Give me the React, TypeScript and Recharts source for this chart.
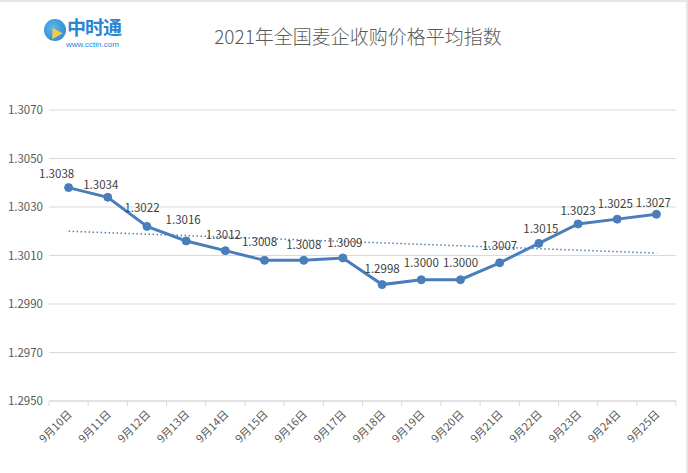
import React from 'react';
import {
  LineChart,
  Line,
  XAxis,
  YAxis,
  CartesianGrid,
  LabelList,
} from 'recharts';

const dates = [
  '9月10日', '9月11日', '9月12日', '9月13日', '9月14日', '9月15日', '9月16日', '9月17日',
  '9月18日', '9月19日', '9月20日', '9月21日', '9月22日', '9月23日', '9月24日', '9月25日',
];
const priceIndex = [
  1.3038, 1.3034, 1.3022, 1.3016, 1.3012, 1.3008, 1.3008, 1.3009,
  1.2998, 1.3, 1.3, 1.3007, 1.3015, 1.3023, 1.3025, 1.3027,
];
// linear trend line, ends
const trend = [1.302, null, null, null, null, null, null, null, null, null, null, null, null, null, null, 1.3011];
const yTicks = [1.295, 1.297, 1.299, 1.301, 1.303, 1.305, 1.307];

const data = dates.map((d, i) => ({ date: d, value: priceIndex[i], trend: trend[i] }));

const W = 688;
const H = 473;
const plotLeft = 49;
const plotRight = 12;
const halfBand = (W - plotLeft - plotRight) / dates.length / 2;

const font = "'Noto Sans CJK SC', 'Noto Sans', sans-serif";
const blue = '#4a7ebb';
const axisGray = '#d9d9d9';
const textGray = '#595959';

// label nudges (Excel places them by hand)
const labelDx = [-12, -7, -5, -3, -2, -5, 0, 2, 0, 0, 0, 0, 2, 0, -2, -3];
const labelDy = [-10, -8, -14, -17, -12, -14, -11, -11, -12, -13, -13, -13, -10, -9, -11, -7];

function XTick(props: any) {
  const { x, y, payload, index } = props;
  return (
    <g>
      {index === 0 && (
        <line x1={x - halfBand} y1={y - 8} x2={x - halfBand} y2={y - 3} stroke={axisGray} />
      )}
      <line x1={x + halfBand} y1={y - 8} x2={x + halfBand} y2={y - 3} stroke={axisGray} />
      <text
        x={x + 4}
        y={y + 6}
        textAnchor="end"
        transform={`rotate(-45 ${x + 4} ${y + 6})`}
        fontSize={11}
        fill={textGray}
        fontFamily={font}
      >
        {payload.value}
      </text>
    </g>
  );
}

function PointLabel(props: any) {
  const { x, y, value, index } = props;
  return (
    <text
      x={x + (labelDx[index] ?? 0)}
      y={y + (labelDy[index] ?? -11)}
      textAnchor="middle"
      fontSize={11.5}
      fill="#404040"
      fontFamily={font}
    >
      {Number(value).toFixed(4)}
    </text>
  );
}

export default function App() {
  return (
    <div
      style={{
        position: 'absolute',
        left: 0,
        top: 0,
        width: W,
        height: H,
        background: '#fff',
        fontFamily: font,
        boxShadow: 'inset 0 2px 0 #e6e6e6, inset -2px 0 0 #e6e6e6',
      }}
    >
      <div style={{ position: 'absolute', left: 44, top: 19, width: 22, height: 22, borderRadius: '50%', background: 'radial-gradient(circle at 40% 40%, #5fb6ec, #1f7fc8)' }}>
        <div style={{ position: 'absolute', left: 5, top: 8, width: 0, height: 0, borderLeft: '6px solid transparent', borderRight: '6px solid transparent', borderBottom: '10px solid #f2c94c', transform: 'rotate(-30deg)' }} />
      </div>
      <div style={{ position: 'absolute', left: 67, top: 17, fontSize: 19, lineHeight: '19px', fontWeight: 700, color: '#2a86d1', letterSpacing: -1 }}>中时通</div>
      <div style={{ position: 'absolute', left: 66, top: 40, fontSize: 8, lineHeight: '9px', color: '#2a86d1', fontFamily: "'Liberation Sans', sans-serif" }}>www.cctin.com</div>
      <div style={{ position: 'absolute', left: 0, width: 716, top: 22, textAlign: 'center', fontSize: 19, fontWeight: 300, color: textGray }}>
        2021年全国麦企收购价格平均指数
      </div>
      <LineChart
        width={W}
        height={H}
        data={data}
        margin={{ top: 110, right: plotRight, left: 0, bottom: 12 }}
      >
        <CartesianGrid vertical={false} stroke={axisGray} />
        <XAxis
          dataKey="date"
          tick={<XTick />}
          tickLine={false}
          axisLine={{ stroke: axisGray }}
          height={60}
          interval={0}
          padding={{ left: halfBand, right: halfBand }}
        />
        <YAxis
          width={plotLeft}
          domain={[1.295, 1.307]}
          ticks={yTicks}
          tickFormatter={(v: number) => v.toFixed(4)}
          axisLine={false}
          tickLine={false}
          tickSize={4}
          tick={{ fontSize: 11.5, fill: textGray, fontFamily: font }}
        />
        <Line
          dataKey="trend"
          stroke={blue}
          strokeWidth={1.5}
          strokeDasharray="1.5 2.5"
          dot={false}
          connectNulls
          isAnimationActive={false}
        />
        <Line
          dataKey="value"
          stroke={blue}
          strokeWidth={3}
          dot={{ r: 4, fill: blue, stroke: blue, strokeWidth: 1 }}
          isAnimationActive={false}
        >
          <LabelList dataKey="value" content={<PointLabel />} />
        </Line>
      </LineChart>
    </div>
  );
}
